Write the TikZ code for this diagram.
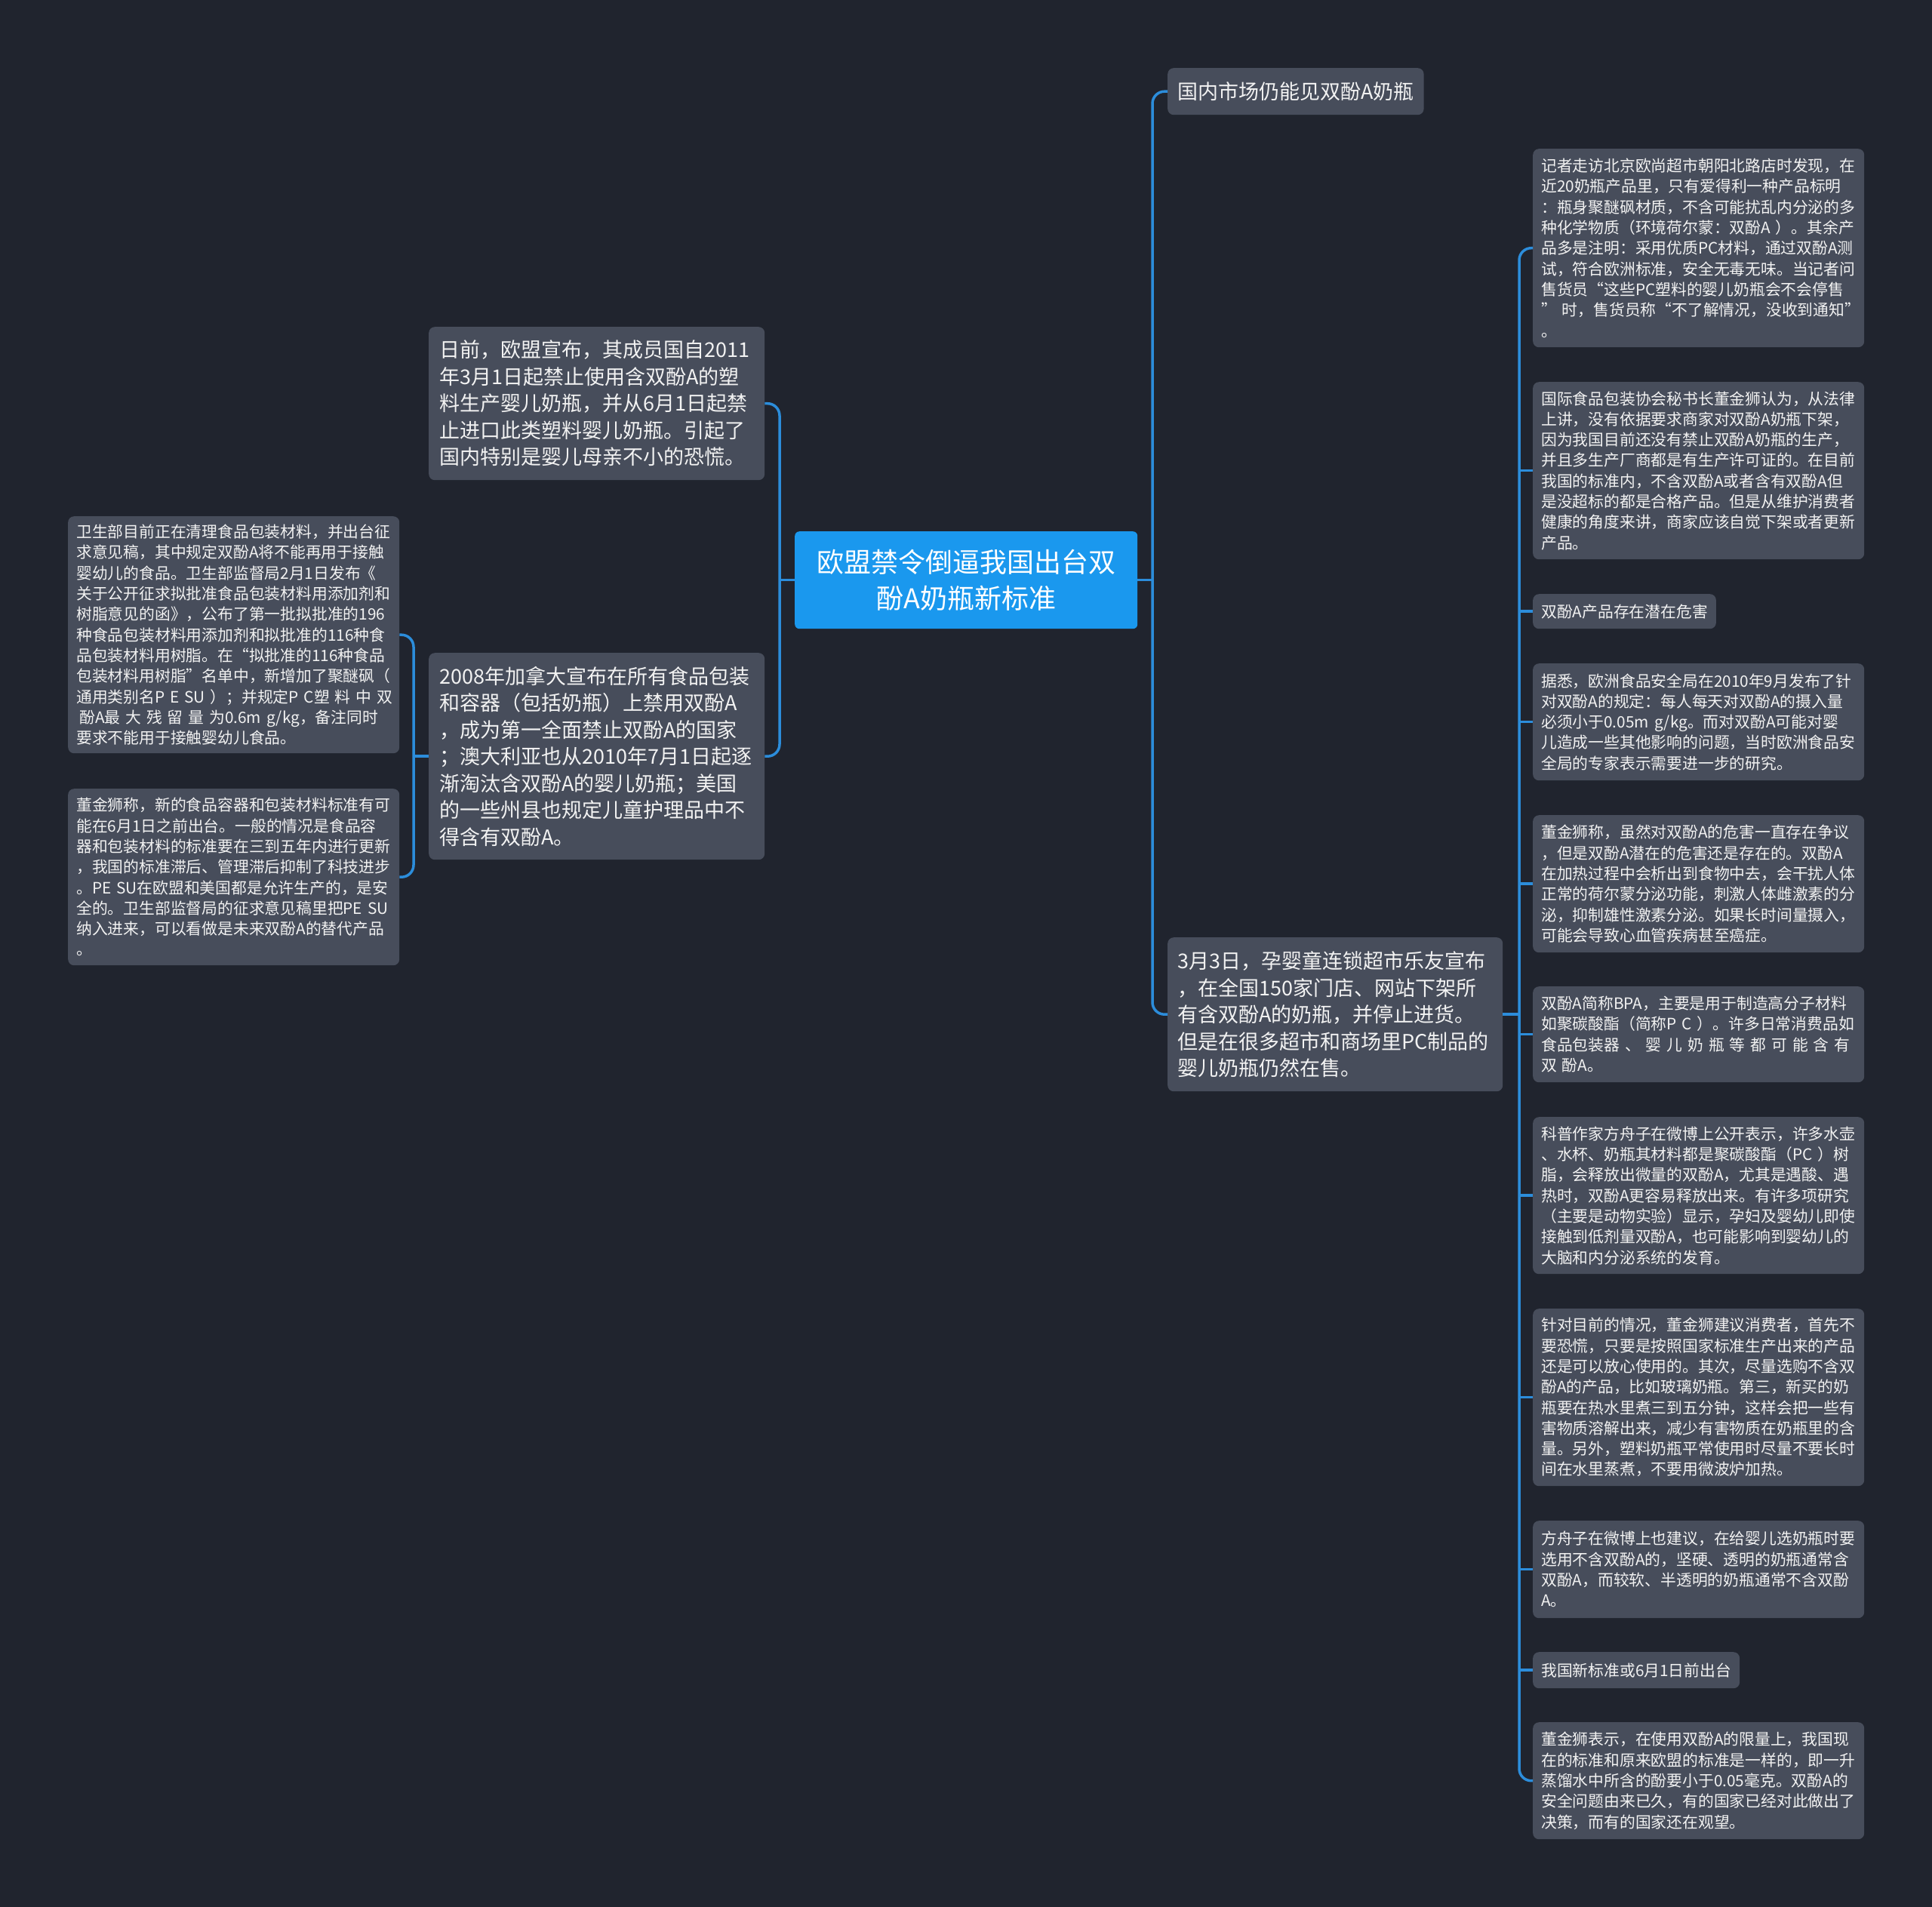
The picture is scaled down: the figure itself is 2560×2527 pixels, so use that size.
\documentclass[tikz,border=0pt]{standalone}
\usepackage{fontspec}
\setmainfont{Noto Sans CJK SC}
\definecolor{bgc}{RGB}{32,36,46}
\definecolor{boxc}{RGB}{71,77,91}
\definecolor{txtc}{RGB}{242,242,242}
\definecolor{centc}{RGB}{26,152,238}
\definecolor{linec}{RGB}{44,141,219}
\begin{document}
\begin{tikzpicture}[x=1pt,y=-1pt,
  conn/.style={draw=linec, line width=3.5pt, rounded corners=16pt},
  base/.style={fill=boxc, text=txtc, rounded corners=8pt, anchor=north west, inner ysep=4pt},
  small/.style={base, font=\fontsize{20.8pt}{27.3pt}\selectfont, inner xsep=11pt},
  smallw/.style={small, text width=417pt, align=left},
  big/.style={base, font=\fontsize{27pt}{35.5pt}\selectfont, inner xsep=13pt},
  bigw/.style={big, text width=418pt, align=left},
  centerbox/.style={fill=centc, text=white, rounded corners=6pt, anchor=north west, align=center, font=\fontsize{36pt}{48pt}\selectfont}
]
\useasboundingbox (0,0) rectangle (2560,2527);
\fill[bgc] (0,0) rectangle (2560,2527);

% bus coordinates
\coordinate (bR) at (1527,0);
\coordinate (bS) at (2013,0);
\coordinate (bL) at (1033,0);
\coordinate (bLS) at (548,0);

% center
\node[centerbox, minimum width=454pt, minimum height=129pt] (c) at (1053,704) {欧盟禁令倒逼我国出台双\\酚A奶瓶新标准};

% level 1 right
\node[big, minimum height=62pt] (n1) at (1547,90) {国内市场仍能见双酚A奶瓶};
\node[bigw, minimum height=204pt] (n2) at (1547,1242) {3月3日，孕婴童连锁超市乐友宣布\\，在全国150家门店、网站下架所\\有含双酚A的奶瓶，并停止进货。\\但是在很多超市和商场里PC制品的\\婴儿奶瓶仍然在售。};

% level 1 left
\node[bigw, text width=417pt, inner xsep=14pt, minimum height=203pt] (nL1) at (568,433) {日前，欧盟宣布，其成员国自2011\\年3月1日起禁止使用含双酚A的塑\\料生产婴儿奶瓶，并从6月1日起禁\\止进口此类塑料婴儿奶瓶。引起了\\国内特别是婴儿母亲不小的恐慌。};
\node[bigw, text width=417pt, inner xsep=14pt, minimum height=274pt] (nL2) at (568,865) {2008年加拿大宣布在所有食品包装\\和容器（包括奶瓶）上禁用双酚A\\，成为第一全面禁止双酚A的国家\\；澳大利亚也从2010年7月1日起逐\\渐淘汰含双酚A的婴儿奶瓶；美国\\的一些州县也规定儿童护理品中不\\得含有双酚A。};

% level 2 left
\node[smallw, minimum height=314pt] (L1) at (90,684) {卫生部目前正在清理食品包装材料，并出台征\\求意见稿，其中规定双酚A将不能再用于接触\\婴幼儿的食品。卫生部监督局2月1日发布《\\关于公开征求拟批准食品包装材料用添加剂和\\树脂意见的函》，公布了第一批拟批准的196\\种食品包装材料用添加剂和拟批准的116种食\\品包装材料用树脂。在“拟批准的116种食品\\包装材料用树脂”名单中，新增加了聚醚砜（\\通用类别名P~E~SU~）；并规定P~C塑~料~中~双\\\hspace*{4pt}酚A最~大~残~留~量~为0.6m~g/kg，备注同时\\要求不能用于接触婴幼儿食品。};
\node[smallw, minimum height=234pt] (L2) at (90,1045) {董金狮称，新的食品容器和包装材料标准有可\\能在6月1日之前出台。一般的情况是食品容\\器和包装材料的标准要在三到五年内进行更新\\，我国的标准滞后、管理滞后抑制了科技进步\\。PE~SU在欧盟和美国都是允许生产的，是安\\全的。卫生部监督局的征求意见稿里把PE~SU\\纳入进来，可以看做是未来双酚A的替代产品\\。};

% level 2 right
\node[smallw, minimum height=263pt] (r1) at (2031,197) {记者走访北京欧尚超市朝阳北路店时发现，在\\近20奶瓶产品里，只有爱得利一种产品标明\\：瓶身聚醚砜材质，不含可能扰乱内分泌的多\\种化学物质（环境荷尔蒙：双酚A~）。其余产\\品多是注明：采用优质PC材料，通过双酚A测\\试，符合欧洲标准，安全无毒无味。当记者问\\售货员“这些PC塑料的婴儿奶瓶会不会停售\\”~时，售货员称“不了解情况，没收到通知”\\。};
\node[smallw, minimum height=235pt] (r2) at (2031,506) {国际食品包装协会秘书长董金狮认为，从法律\\上讲，没有依据要求商家对双酚A奶瓶下架，\\因为我国目前还没有禁止双酚A奶瓶的生产，\\并且多生产厂商都是有生产许可证的。在目前\\我国的标准内，不含双酚A或者含有双酚A但\\是没超标的都是合格产品。但是从维护消费者\\健康的角度来讲，商家应该自觉下架或者更新\\产品。};
\node[small, minimum height=46pt] (r3) at (2031,787) {双酚A产品存在潜在危害};
\node[smallw, minimum height=155pt] (r4) at (2031,879) {据悉，欧洲食品安全局在2010年9月发布了针\\对双酚A的规定：每人每天对双酚A的摄入量\\必须小于0.05m~g/kg。而对双酚A可能对婴\\儿造成一些其他影响的问题，当时欧洲食品安\\全局的专家表示需要进一步的研究。};
\node[smallw, minimum height=182pt] (r5) at (2031,1080) {董金狮称，虽然对双酚A的危害一直存在争议\\，但是双酚A潜在的危害还是存在的。双酚A\\在加热过程中会析出到食物中去，会干扰人体\\正常的荷尔蒙分泌功能，刺激人体雌激素的分\\泌，抑制雄性激素分泌。如果长时间量摄入，\\可能会导致心血管疾病甚至癌症。};
\node[smallw, minimum height=127pt] (r6) at (2031,1307) {双酚A简称BPA，主要是用于制造高分子材料\\如聚碳酸酯（简称P~C~）。许多日常消费品如\\食品包装器~、~婴~儿~奶~瓶~等~都~可~能~含~有\\双~酚A。};
\node[smallw, minimum height=208pt] (r7) at (2031,1480) {科普作家方舟子在微博上公开表示，许多水壶\\、水杯、奶瓶其材料都是聚碳酸酯（PC~）树\\脂，会释放出微量的双酚A，尤其是遇酸、遇\\热时，双酚A更容易释放出来。有许多项研究\\（主要是动物实验）显示，孕妇及婴幼儿即使\\接触到低剂量双酚A，也可能影响到婴幼儿的\\大脑和内分泌系统的发育。};
\node[smallw, minimum height=235pt] (r8) at (2031,1734) {针对目前的情况，董金狮建议消费者，首先不\\要恐慌，只要是按照国家标准生产出来的产品\\还是可以放心使用的。其次，尽量选购不含双\\酚A的产品，比如玻璃奶瓶。第三，新买的奶\\瓶要在热水里煮三到五分钟，这样会把一些有\\害物质溶解出来，减少有害物质在奶瓶里的含\\量。另外，塑料奶瓶平常使用时尽量不要长时\\间在水里蒸煮，不要用微波炉加热。};
\node[smallw, minimum height=129pt] (r9) at (2031,2015) {方舟子在微博上也建议，在给婴儿选奶瓶时要\\选用不含双酚A的，坚硬、透明的奶瓶通常含\\双酚A，而较软、半透明的奶瓶通常不含双酚\\A。};
\node[small, minimum height=48pt] (r10) at (2031,2189) {我国新标准或6月1日前出台};
\node[smallw, minimum height=155pt] (r11) at (2031,2282) {董金狮表示，在使用双酚A的限量上，我国现\\在的标准和原来欧盟的标准是一样的，即一升\\蒸馏水中所含的酚要小于0.05毫克。双酚A的\\安全问题由来已久，有的国家已经对此做出了\\决策，而有的国家还在观望。};

% connectors
\draw[conn] (n1.west) -- (n1.west -| bR) -- (n2.west -| bR) -- (n2.west);
\draw[conn] (c.east) -- (c.east -| bR);
\draw[conn] (nL1.east) -- (nL1.east -| bL) -- (nL2.east -| bL) -- (nL2.east);
\draw[conn] (c.west) -- (c.west -| bL);
\draw[conn] (L1.east) -- (L1.east -| bLS) -- (L2.east -| bLS) -- (L2.east);
\draw[conn] (nL2.west) -- (nL2.west -| bLS);
\draw[conn] (r1.west) -- (r1.west -| bS) -- (r11.west -| bS) -- (r11.west);
\draw[conn] (n2.east) -- (n2.east -| bS);
\foreach \n in {r2,r3,r4,r5,r6,r7,r8,r9,r10}
  \draw[conn] (\n.west) -- (\n.west -| bS);
\end{tikzpicture}
\end{document}
